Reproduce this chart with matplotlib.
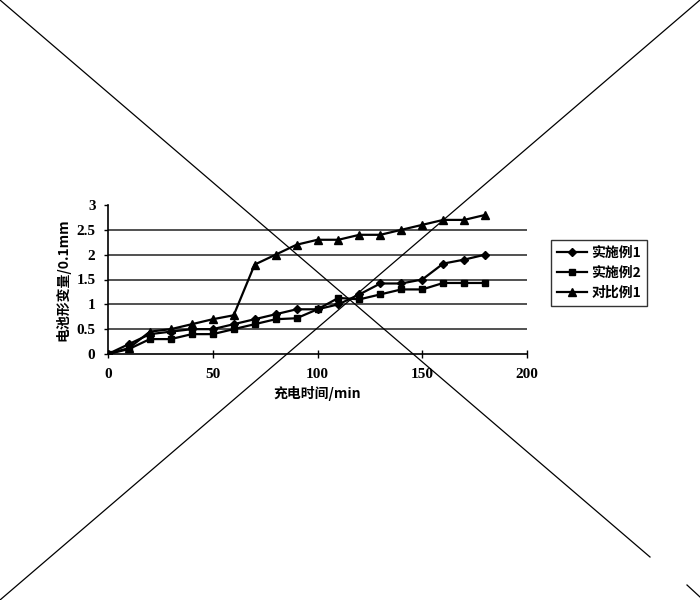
import matplotlib
matplotlib.use("Agg")
import matplotlib.pyplot as plt
from matplotlib.lines import Line2D

plt.rcParams['font.family'] = ['Noto Sans CJK SC', 'DejaVu Sans']

time_min = [0, 10, 20, 30, 40, 50, 60, 70, 80, 90, 100, 110, 120, 130, 140, 150, 160, 170, 180]
ex1 = [0, 0.2, 0.4, 0.45, 0.5, 0.5, 0.6, 0.7, 0.8, 0.9, 0.9, 1.0, 1.2, 1.42, 1.42, 1.5, 1.82, 1.9, 2.0]
ex2 = [0, 0.1, 0.3, 0.3, 0.4, 0.4, 0.5, 0.6, 0.7, 0.72, 0.9, 1.13, 1.1, 1.2, 1.3, 1.3, 1.43, 1.43, 1.43]
cmp1 = [0, 0.12, 0.45, 0.5, 0.6, 0.7, 0.78, 1.8, 2.0, 2.2, 2.3, 2.3, 2.4, 2.4, 2.5, 2.6, 2.7, 2.7, 2.8]
series_names = ['实施例1', '实施例2', '对比例1']
x_ticks = [0, 50, 100, 150, 200]
y_ticks = [0, 0.5, 1, 1.5, 2, 2.5, 3]
y_tick_labels = ['0', '0.5', '1', '1.5', '2', '2.5', '3']

fig = plt.figure(figsize=(7, 6), dpi=100)
ax = fig.add_axes([108/700, 1-354/600, (527-108)/700, (354-205)/600])

markers = ['D', 's', '^']
sizes = [4.5, 5, 6]
for y, m, s, name in zip([ex1, ex2, cmp1], markers, sizes, series_names):
    ax.plot(time_min, y, color='black', lw=1.6, marker=m, ms=s, label=name, zorder=3)

ax.set_xlim(0, 200)
ax.set_ylim(0, 3)
ax.set_xticks(x_ticks)
ax.set_yticks(y_ticks)
ax.set_yticklabels(y_tick_labels)
ax.set_xticklabels([str(v) for v in x_ticks])
for lbl in ax.get_xticklabels() + ax.get_yticklabels():
    lbl.set_family(['Liberation Serif'])
    lbl.set_fontweight('bold')
    lbl.set_fontsize(11)
ax.tick_params(axis='x', direction='inout', length=6, width=1, pad=7)
ax.tick_params(axis='y', direction='out', length=3, width=1, pad=6)
for gy in [0.5, 1, 1.5, 2, 2.5]:
    ax.axhline(gy, color='#333333', lw=1.2, zorder=1)
ax.spines['top'].set_visible(False)
ax.spines['right'].set_visible(False)
ax.spines['left'].set_linewidth(1.2)
ax.spines['bottom'].set_linewidth(1.2)

ax.set_xlabel('充电时间/min', fontsize=10, fontweight='bold', labelpad=4)
ax.set_ylabel('电池形变量/0.1mm', fontsize=10, fontweight='bold', labelpad=4)

leg = ax.legend(loc='upper left', bbox_to_anchor=(551/700, 1-240/600), bbox_transform=fig.transFigure,
                frameon=True, fancybox=False, edgecolor='black', fontsize=10, handlelength=2.2,
                borderpad=0.4, labelspacing=0.45, handletextpad=0.3, borderaxespad=0)
leg.get_frame().set_linewidth(1.0)
for t in leg.get_texts():
    t.set_fontweight('bold')

# diagonal cross lines over whole figure
fig.add_artist(Line2D([0, 650/700], [1, 1-557/600], transform=fig.transFigure, color='black', lw=0.9))
fig.add_artist(Line2D([687/700, 1], [1-585/600, 1-597/600], transform=fig.transFigure, color='black', lw=0.9))
fig.add_artist(Line2D([0, 1], [0, 1], transform=fig.transFigure, color='black', lw=0.9))

fig.savefig('out.png', dpi=100)
